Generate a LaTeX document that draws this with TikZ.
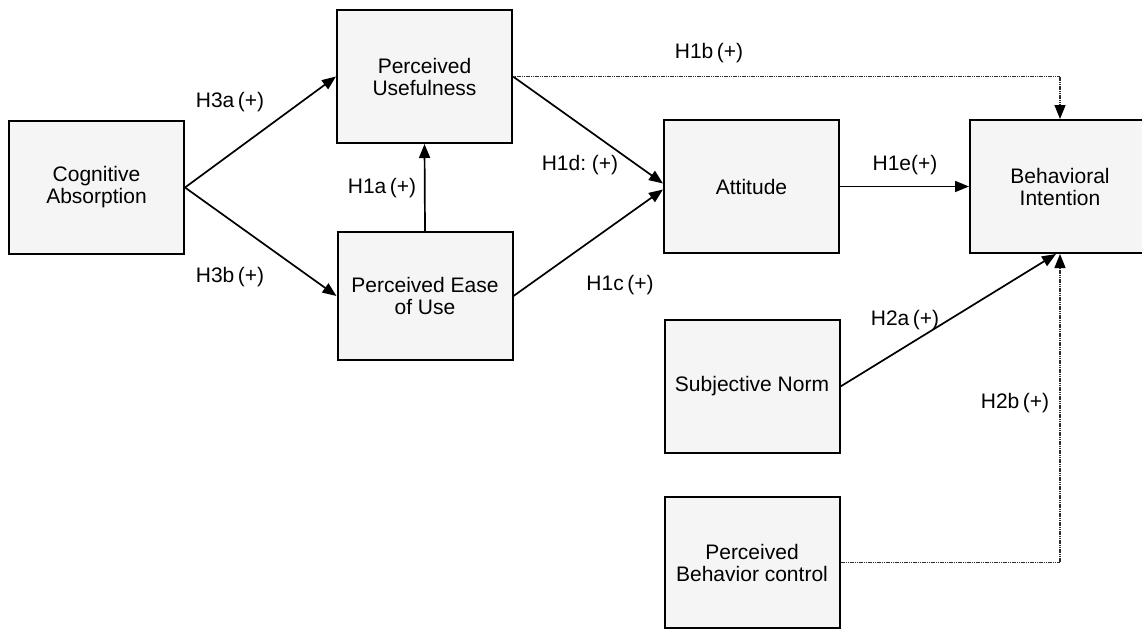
\documentclass[tikz,border=0pt]{standalone}
\usepackage{fontspec}
\setmainfont{Liberation Sans}
\usetikzlibrary{calc, arrows.meta}

\begin{document}
\begin{tikzpicture}[x=1pt, y=-1pt, line width=1.7pt,
  box/.style={draw=black, line width=2pt, fill=gray!8, minimum width=175pt,
    minimum height=133pt, align=center, inner sep=0pt,
    font=\fontsize{21}{22}\selectfont},
  lbl/.style={inner sep=0pt, font=\fontsize{21}{22}\selectfont},
  link/.style={-{Triangle[length=14pt, width=11pt]}},
  dotlink/.style={-{Triangle[length=14pt, width=11pt, black]}, draw=gray!35!black,
    line width=1.3pt, dash pattern=on 1.2pt off 0.6pt}]
  \useasboundingbox (0,0) rectangle (1142,629);
  \clip (0,0) rectangle (1142,629);

  % constructs
  \node[box] (CA)  at (96.5,187.5) {Cognitive\\Absorption};
  \node[box] (PU)  at (424.5,76.5) {Perceived\\Usefulness};
  \node[box, minimum height=128pt] (PEU) at (425,296) {Perceived Ease\\of Use};
  \node[box] (Att) at (751.5,186.5) {Attitude};
  \node[box, minimum width=180pt] (BI) at (1060,186.5) {Behavioral\\Intention};
  \node[box] (SN)  at (752,386.5) {Subjective Norm};
  \node[box, minimum height=131pt] (PBC) at (752,562.5) {Perceived\\Behavior control};

  % hypothesised paths
  \draw[link] (CA.east) -- (PU.west);
  \draw[link] (CA.east) -- (PEU.west);
  \draw[link] (PEU.north) -- (PU.south);
  \draw[link] (PU.east) -- ($(Att.west)+(0,-3)$);
  \draw[link] (PEU.east) -- ($(Att.west)+(0,3)$);
  \draw[link] (Att.east) -- (BI.west);
  \draw[link] (SN.east) -- ($(BI.south)+(-4,0)$);
  % dotted paths
  \draw[dotlink] (PU.east) -| (BI.north);
  \draw[dotlink] (PBC.east) -| (BI.south);

  % path labels
  \node[lbl] (lH3a) at (230,102)  {H3a\,(+)};
  \node[lbl] (lH3b) at (230,277)  {H3b\,(+)};
  \node[lbl] (lH1a) at (382,188)  {H1a\,(+)};
  \node[lbl] (lH1d) at (580,165)  {H1d:\ (+)};
  \node[lbl] (lH1c) at (620,285)  {H1c\,(+)};
  \node[lbl] (lH1e) at (905,165)  {H1e(+)};
  \node[lbl] (lH1b) at (709,53)   {H1b\,(+)};
  \node[lbl] (lH2a) at (905,320)  {H2a\,(+)};
  \node[lbl] (lH2b) at (1015,403) {H2b\,(+)};
\end{tikzpicture}
\end{document}
